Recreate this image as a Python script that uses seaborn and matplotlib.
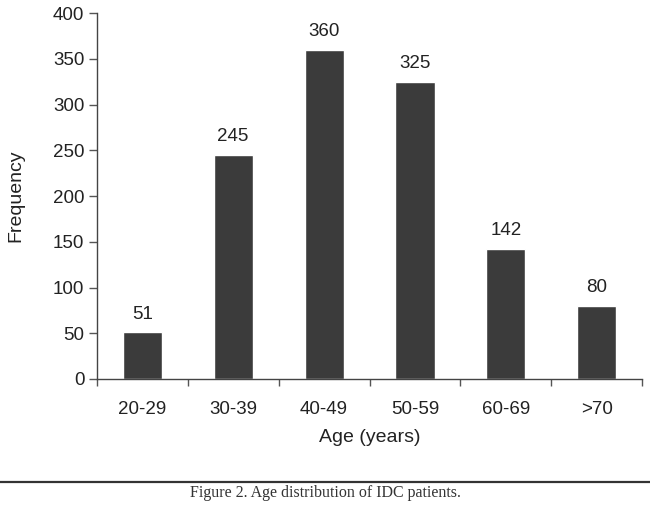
import numpy as np
import pandas as pd
import seaborn as sns
import matplotlib.pyplot as plt

# dados
age_groups = ['20-29', '30-39', '40-49', '50-59', '60-69', '>70']
frequency = [51, 245, 360, 325, 142, 80]
y_ticks = [0, 50, 100, 150, 200, 250, 300, 350, 400]

df = pd.DataFrame({'Age': age_groups, 'Frequency': frequency})

sns.set_style('ticks')
plt.rcParams['font.family'] = ['Liberation Sans', 'DejaVu Sans']

fig = plt.figure(figsize=(6.5, 5.08), dpi=100)
ax = fig.add_axes([0.149, 0.254, 0.839, 0.720])

sns.barplot(data=df, x='Age', y='Frequency', color='#3b3b3b', saturation=1,
            width=0.43, ax=ax)

ax.bar_label(ax.containers[0], fontsize=13.5, padding=7, color='#222222')

ax.set_ylim(0, 400)
ax.set_yticks(y_ticks)
ax.set_xlim(-0.5, len(age_groups) - 0.5)

# ticks do eixo x nas divisas das categorias
ax.set_xticks(np.arange(-0.5, len(age_groups), 1), minor=True)
ax.tick_params(axis='x', which='major', length=0, pad=16, labelsize=13.5, labelcolor='#222222')
ax.tick_params(axis='x', which='minor', length=5, width=1, color='#555555')
ax.tick_params(axis='y', length=6, width=1, pad=3, color='#555555', labelsize=13.5, labelcolor='#222222')

ax.set_xlabel('Age (years)', fontsize=14, color='#222222')
ax.xaxis.set_label_coords(0.5, (379 - 438) / 366, transform=ax.transAxes)
ax.xaxis.label.set_va('center')
ax.set_ylabel('Frequency', fontsize=14, color='#222222')
ax.yaxis.set_label_coords((16 - 97) / 545, 0.5, transform=ax.transAxes)
ax.yaxis.label.set_va('center')

sns.despine(ax=ax)
for s in ['left', 'bottom']:
    ax.spines[s].set_color('#444444')
    ax.spines[s].set_linewidth(1)

# linha e legenda da figura
fig.add_artist(plt.Line2D([0, 1], [1 - 482 / 508, 1 - 482 / 508],
                          color='#333333', linewidth=1.6, transform=fig.transFigure))
fig.text(325 / 650, 1 - 493 / 508, 'Figure 2. Age distribution of IDC patients.',
         ha='center', va='center', fontsize=11.5, family='Liberation Serif',
         color='#333333')

fig.savefig('out.png', dpi=100)
